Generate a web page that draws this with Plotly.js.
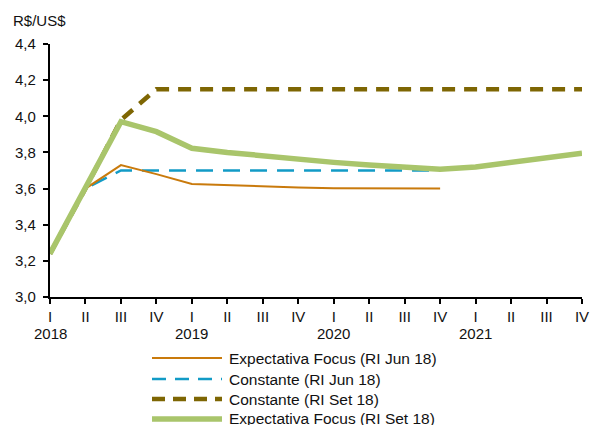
<!DOCTYPE html>
<html>
<head>
<meta charset="utf-8">
<script src="https://cdn.plot.ly/plotly-3.0.1.min.js"></script>
<style>html,body{margin:0;padding:0;background:#fff;}#chart{width:590px;height:425px;}</style>
</head>
<body>
<div id="chart"></div>
<script>
// Quarter positions 0..15 (2018 I .. 2021 IV)
const quarters = ["I","II","III","IV","I","II","III","IV","I","II","III","IV","I","II","III","IV"];
const years = ["2018","","","","2019","","","","2020","","","","2021","","",""];

const nameFocusJun = "Expectativa Focus (RI Jun 18)";
const nameConstJun = "Constante (RI Jun 18)";
const nameConstSet = "Constante (RI Set 18)";
const nameFocusSet = "Expectativa Focus (RI Set 18)";

const focusJun = [3.24, 3.60, 3.73, 3.68, 3.625, 3.618, 3.612, 3.606, 3.602, 3.600, 3.600, 3.600];
const constJun = [3.24, 3.60, 3.70, 3.70, 3.70, 3.70, 3.70, 3.70, 3.70, 3.70, 3.70, 3.70];
const constSet = [3.24, 3.60, 3.98, 4.15, 4.15, 4.15, 4.15, 4.15, 4.15, 4.15, 4.15, 4.15, 4.15, 4.15, 4.15, 4.15];
const focusSet = [3.24, 3.60, 3.97, 3.915, 3.823, 3.80, 3.78, 3.76, 3.745, 3.73, 3.72, 3.707, 3.72, 3.745, 3.77, 3.795];

const colors = {focusJun:"#C97A0C", constJun:"#129BC6", constSet:"#7E6603", focusSet:"#A9C56B"};

const idx = n => Array.from({length:n}, (_, i) => i);

const traces = [
  {x: idx(constSet.length), y: constSet, name: nameConstSet, mode:"lines",
   line:{color:colors.constSet, width:4.5, dash:"13px,9px"}},
  {x: idx(constJun.length), y: constJun, name: nameConstJun, mode:"lines",
   line:{color:colors.constJun, width:2.5, dash:"17px,10px"}},
  {x: idx(focusJun.length), y: focusJun, name: nameFocusJun, mode:"lines",
   line:{color:colors.focusJun, width:2}},
  {x: idx(focusSet.length), y: focusSet, name: nameFocusSet, mode:"lines",
   line:{color:colors.focusSet, width:5.5}}
];

// plot area in pixels: x 50..582, y 44..297
const L = 50, R = 582, T = 44, B = 297;
const px = v => (v - L) / (R - L);
const py = v => (B - v) / (B - T);

const legendItems = [
  {name: nameFocusJun, color: colors.focusJun, width: 2, dash: "solid", y: 358},
  {name: nameConstJun, color: colors.constJun, width: 2.5, dash: "14px,9px", y: 379},
  {name: nameConstSet, color: colors.constSet, width: 4.5, dash: "13px,8px", y: 399},
  {name: nameFocusSet, color: colors.focusSet, width: 5.5, dash: "solid", y: 419}
];

const shapes = legendItems.map(it => ({
  type: "line", xref: "paper", yref: "paper",
  x0: px(152), x1: px(222), y0: py(it.y), y1: py(it.y),
  line: {color: it.color, width: it.width, dash: it.dash}
}));

const annotations = legendItems.map(it => ({
  xref: "paper", yref: "paper", x: px(227), y: py(it.y),
  xanchor: "left", yanchor: "middle", showarrow: false,
  text: it.name, font: {size: 15.5, color: "#111"}
}));
annotations.push({
  xref: "paper", yref: "paper", x: px(11), y: py(20),
  xanchor: "left", yanchor: "middle", showarrow: false,
  text: "R$/US$", font: {size: 15, color: "#111"}
});
years.forEach((yr, i) => {
  if (yr) annotations.push({
    xref: "x", yref: "paper", x: i, y: py(333),
    xanchor: "center", yanchor: "middle", showarrow: false,
    text: yr, font: {size: 15, color: "#111"}
  });
});

const layout = {
  width: 590, height: 425,
  margin: {l: L, r: 590 - R, t: T, b: 425 - B},
  paper_bgcolor: "#ffffff", plot_bgcolor: "#ffffff",
  font: {family: "Liberation Sans, Arial, sans-serif", size: 15, color: "#111"},
  separators: ",.",
  showlegend: false,
  xaxis: {
    range: [0, 15], tickvals: idx(16), ticktext: quarters,
    showgrid: false, zeroline: false, showline: true, linecolor: "#000", linewidth: 2,
    ticks: "outside", ticklen: 5, tickwidth: 2, tickcolor: "#000", tickangle: 0,
    tickfont: {size: 15}, fixedrange: true
  },
  yaxis: {
    range: [3.0, 4.4], dtick: 0.2, tick0: 3.0, tickformat: ".1f",
    ticksuffix: "\u00a0",
    showgrid: false, zeroline: false, showline: true, linecolor: "#000", linewidth: 2,
    ticks: "outside", ticklen: 5, tickwidth: 2, tickcolor: "#000",
    tickfont: {size: 15}, fixedrange: true
  },
  shapes: shapes,
  annotations: annotations
};

Plotly.newPlot("chart", traces, layout, {displayModeBar: false, staticPlot: true});
</script>
</body>
</html>
